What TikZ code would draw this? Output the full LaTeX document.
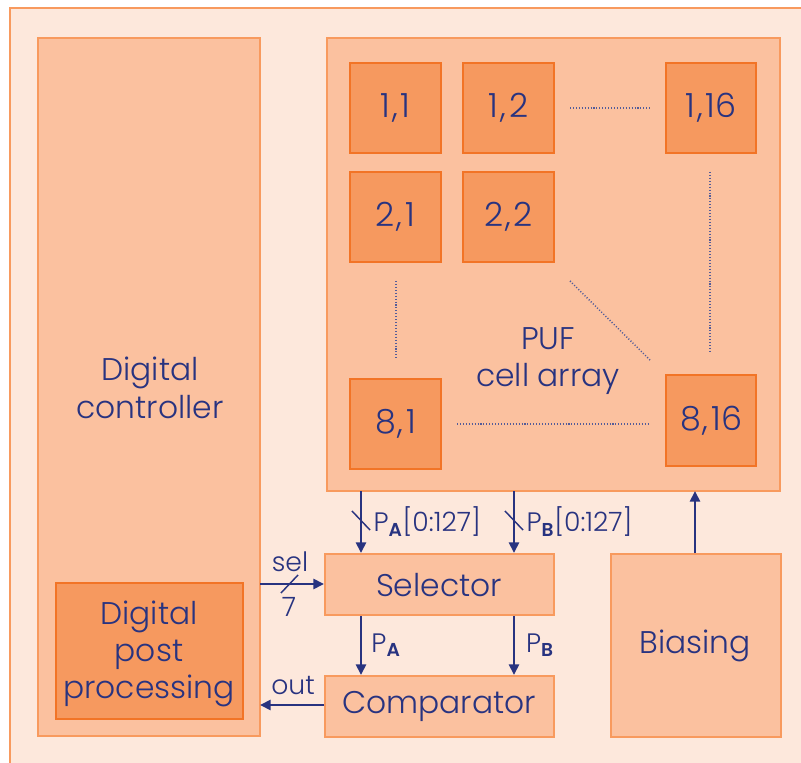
\documentclass[tikz,border=0pt]{standalone}
\usepackage{fontspec}
\setmainfont{Poppins Light}
\usetikzlibrary{arrows.meta}

\definecolor{bgpeach}{HTML}{FDE8DC}
\definecolor{edgeorange}{HTML}{F89A5E}
\definecolor{blockfill}{HTML}{FBC19F}
\definecolor{cellfill}{HTML}{F6995F}
\definecolor{celledge}{HTML}{F27426}
\definecolor{ink}{HTML}{283380}

% cell index "row,column" with open spacing round the comma
\newcommand{\cellidx}[2]{#1\kern1.5pt,\kern2pt#2}

\tikzset{
  block/.style={draw=edgeorange, fill=blockfill, line width=1.5pt, inner sep=0pt},
  cellbox/.style={draw=celledge, fill=cellfill, line width=1.5pt, inner sep=0pt,
    minimum width=68pt, minimum height=68pt, font=\fontsize{25}{30}\selectfont, text=ink},
  lbl/.style={text=ink, font=\fontsize{23.5}{28}\selectfont, align=center},
  small/.style={text=ink, font=\fontsize{20}{23}\selectfont, inner sep=1pt},
  sig/.style={draw=ink, line width=2pt, -{Triangle[length=8pt,width=7.5pt]}},
  dots/.style={draw=ink!80, line width=1.1pt, dash pattern=on 0.8pt off 1.4pt},
  bus/.style={draw=ink, line width=1.1pt}
}

\begin{document}
\begin{tikzpicture}[x=0.75pt, y=-0.75pt]
  \useasboundingbox (0,0) rectangle (801,763);
  \fill[white] (0,0) rectangle (801,763);
  % outer frame
  \draw[fill=bgpeach, draw=edgeorange, line width=1.5pt] (10,8) rectangle (815,780);

  % large blocks
  \draw[block] (38,38) rectangle (260,736);
  \node[lbl] (ctrl) at (150,388) {Digital\\controller};
  \node[block, draw=celledge, fill=cellfill, minimum width=140.25pt, minimum height=102pt,
        anchor=north west] (post) at (55,582) {};
  \node[lbl] (postlbl) at (149,654) {Digital\\post\\processing};

  \draw[block] (327,38) rectangle (780,491);
  \coordinate (arrTop) at (361,491);
  \coordinate (arrB) at (514,491);
  \coordinate (arrBias) at (695,491);
  \node[lbl] (puf) at (548,361) {PUF\\cell array};

  % cells of the array
  \node[cellbox] (c11) at (395.5,108) {\cellidx{1}{1}};
  \node[cellbox] (c12) at (508.5,108) {\cellidx{1}{2}};
  \node[cellbox] (c116) at (711,108) {\cellidx{1}{16}};
  \node[cellbox] (c21) at (395.5,217) {\cellidx{2}{1}};
  \node[cellbox] (c22) at (508.5,217) {\cellidx{2}{2}};
  \node[cellbox] (c81) at (395.5,424) {\cellidx{8}{1}};
  \node[cellbox] (c816) at (711,420.5) {\cellidx{8}{16}};

  % ellipsis lines
  \draw[dots] (570,108) -- (650,108);
  \draw[dots] (710,172) -- (710,352);
  \draw[dots] (396,281) -- (396,360);
  \draw[dots] (570,281) -- (650,360);
  \draw[dots] (457,424) -- (650,424);

  % lower blocks
  \node[block, minimum width=171.75pt, minimum height=45.75pt, anchor=north west] (sel) at (324,553) {};
  \node[lbl] at (439,585) {Selector};
  \node[block, minimum width=171.75pt, minimum height=45.75pt, anchor=north west] (cmp) at (324,675) {};
  \node[lbl] at (439,706) {Comparator};
  \node[block, minimum width=127.5pt, minimum height=137.25pt, anchor=north west] (bias) at (610,553) {};
  \node[lbl] at (695,646) {Biasing};

  % buses from the array to the selector
  \draw[sig] (arrTop) -- (arrTop |- sel.north);
  \draw[sig] (arrB) -- (arrB |- sel.north);
  \draw[bus] (352,511) -- (370,530);
  \draw[bus] (505,511) -- (523,530);
  \node[small, anchor=west] at (372,522) {P$_{\mathbf{A}}$[0:127]};
  \node[small, anchor=west] at (525,522) {P$_{\mathbf{B}}$[0:127]};

  % selector to comparator
  \draw[sig] (sel.south -| arrTop) -- (cmp.north -| arrTop);
  \draw[sig] (sel.south -| arrB) -- (cmp.north -| arrB);
  \node[small] at (386,645) {P$_{\mathbf{A}}$};
  \node[small] at (540,645) {P$_{\mathbf{B}}$};

  % controller links
  \coordinate (selIn) at (260,584);
  \draw[sig] (selIn) -- (selIn -| sel.west);
  \draw[bus] (281,593) -- (298,575);
  \node[small] at (290,562) {sel};
  \node[small] at (289,607) {7};
  \coordinate (outEnd) at (260,705);
  \draw[sig] (outEnd -| cmp.west) -- (outEnd);
  \node[small] at (293,686) {out};

  % biasing feeds the array
  \draw[sig] (arrBias |- bias.north) -- (arrBias);
\end{tikzpicture}
\end{document}
